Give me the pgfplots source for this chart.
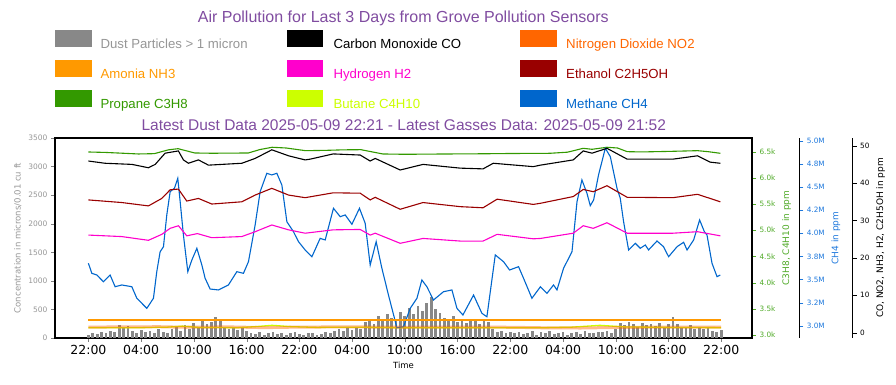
\documentclass[border=0pt]{standalone}
\usepackage{pgfplots}
\pgfplotsset{compat=1.18}
\usepackage{fontspec}
\setmainfont{DejaVu Sans}
\newfontfamily\arial{Liberation Sans}
\definecolor{ttl}{RGB}{128,76,160}
\definecolor{dust}{RGB}{136,136,136}
\definecolor{dusttxt}{RGB}{150,150,150}
\definecolor{no2}{RGB}{255,102,0}
\definecolor{nh3}{RGB}{255,153,0}
\definecolor{htwo}{RGB}{255,0,204}
\definecolor{eth}{RGB}{153,0,0}
\definecolor{prop}{RGB}{51,153,0}
\definecolor{but}{RGB}{204,255,0}
\definecolor{meth}{RGB}{0,102,204}
\definecolor{propaxis}{RGB}{80,170,40}
\definecolor{methaxis}{RGB}{30,120,220}
\pgfplotsset{
  base/.style={scale only axis, width=697pt, height=200pt, at={(55pt,47pt)}, anchor=south west,
    xmin=-3.8, xmax=75.5, tick align=outside, major tick length=4pt,
    /pgf/number format/assume math mode=true, /pgf/number format/1000 sep={}},
  side/.style={base, axis y line*=right, hide x axis,
    yticklabel style={font=\fontsize{7.3}{8}\selectfont},
    ylabel style={font=\fontsize{9}{10}\selectfont},
    y axis line style={black, line width=1pt}},
}
\begin{document}
\begin{tikzpicture}
\useasboundingbox (0,0) rectangle (896pt,385pt);
% titles
\node[anchor=base, text=ttl, font=\arial\fontsize{16}{18}\selectfont] at (403.3pt,362.7pt) {Air Pollution for Last 3 Days from Grove Pollution Sensors};
\node[anchor=base, text=ttl, font=\arial\fontsize{15.5}{18}\selectfont] at (403.8pt,254.3pt) {Latest Dust Data 2025-05-09 22:21 - Latest Gasses Data: 2025-05-09 21:52};
% legend
\begin{scope}[every node/.style={anchor=base west, font=\arial\fontsize{13.2}{15}\selectfont}]
\fill[dust] (55pt,338.3pt) rectangle (91.7pt,355pt);
\node[text=dusttxt] at (97pt,336.3pt) {Dust Particles > 1 micron};
\fill[black] (287.3pt,338.3pt) rectangle (323.3pt,355pt);
\node[text=black] at (330pt,336.3pt) {Carbon Monoxide CO};
\fill[no2] (520pt,338.3pt) rectangle (556.7pt,355pt);
\node[text=no2] at (562.7pt,336.3pt) {Nitrogen Dioxide NO2};
\fill[nh3] (55pt,308.3pt) rectangle (91.7pt,325pt);
\node[text=nh3] at (97pt,306.3pt) {Amonia NH3};
\fill[htwo] (287.3pt,308.3pt) rectangle (323.3pt,325pt);
\node[text=htwo] at (330pt,306.3pt) {Hydrogen H2};
\fill[eth] (520pt,308.3pt) rectangle (556.7pt,325pt);
\node[text=eth] at (562.7pt,306.3pt) {Ethanol C2H5OH};
\fill[prop] (55pt,278.3pt) rectangle (91.7pt,295pt);
\node[text=prop] at (97pt,276pt) {Propane C3H8};
\fill[but] (287.3pt,278.3pt) rectangle (323.3pt,295pt);
\node[text=but] at (330pt,276pt) {Butane C4H10};
\fill[meth] (520pt,278.3pt) rectangle (556.7pt,295pt);
\node[text=meth] at (562.7pt,276pt) {Methane CH4};
\end{scope}
% dust axis
\begin{axis}[base, ymin=0, ymax=3500, ytick={0,500,...,3500},
  xtick={0,6,...,72},
  xticklabels={22:00,04:00,10:00,16:00,22:00,04:00,10:00,16:00,22:00,04:00,10:00,16:00,22:00},
  xtick pos=bottom, ytick pos=left, axis line style={line width=1.2pt},
  yticklabel style={font=\fontsize{7.5}{8}\selectfont, text=dusttxt},
  xticklabel style={font=\fontsize{12.5}{13}\selectfont},
  xlabel={Time}, xlabel style={font=\fontsize{8.5}{9}\selectfont},
  ylabel={Concentration in microns/0.01 cu ft},
  ylabel style={font=\fontsize{8.5}{9}\selectfont, text=dusttxt}]
\addplot[ycomb, draw=dust, line width=2.8pt] table[x expr=\coordindex*0.5, y index=0] {
v
60
90
70
110
80
120
100
230
190
210
120
90
140
100
130
80
150
110
90
160
210
120
230
150
260
190
300
240
280
360
330
180
150
200
140
170
120
90
70
100
60
80
110
70
90
60
80
100
70
50
80
90
60
70
100
80
120
150
120
170
140
200
160
280
330
250
380
300
420
350
300
450
380
520
420
560
480
610
720
500
430
350
300
380
280
320
260
340
300
250
330
280
150
110
130
90
100
80
110
70
90
120
60
100
80
130
70
90
110
60
80
100
70
120
90
80
110
100
130
90
150
260
220
280
240
200
270
230
250
210
260
190
240
360
250
200
170
220
160
190
150
180
130
110
140
};
\end{axis}
% propane/butane axis
\begin{axis}[side, ymin=2943, ymax=6761, ytick={3000,3500,...,6500},
  yticklabels={3.0k,3.5k,4.0k,4.5k,5.0k,5.5k,6.0k,6.5k},
  ytick style={draw=propaxis}, yticklabel style={text=propaxis},
  ylabel={C3H8, C4H10 in ppm}, ylabel style={text=propaxis}]
\addplot[prop, line width=1.1pt] coordinates {(0,6494) (2,6485) (5.7,6456) (7.5,6462) (9.1,6535) (10.2,6557) (12.1,6475) (14,6470) (16,6472) (18.2,6475) (19.5,6540) (20.9,6584) (22.5,6570) (24.7,6519) (27,6525) (29,6535) (31,6538) (33.5,6456) (36,6450) (40,6455) (45,6460) (48,6465) (52.5,6469) (54.5,6490) (56.3,6564) (57.3,6545) (59,6584) (60.2,6570) (61.3,6500) (63,6495) (66,6505) (69.3,6519) (70.5,6500) (71.9,6469)};
\addplot[but, line width=1.3pt] coordinates {(0,3140) (6,3140) (9,3150) (10.7,3170) (12.5,3145) (17,3140) (19,3160) (20.9,3185) (23,3160) (26,3145) (30,3150) (35,3140) (45,3140) (52,3140) (55,3150) (58.2,3185) (61,3155) (66,3145) (72,3140)};
\end{axis}
% methane axis
\begin{axis}[side, axis y line shift=47.3pt, ymin=2.867, ymax=5.032,
  ytick={3.0,3.25,3.5,3.75,4.0,4.25,4.5,4.75,5.0},
  yticklabels={3.0M,3.2M,3.5M,3.8M,4.0M,4.2M,4.5M,4.8M,5.0M},
  ytick style={draw=methaxis}, yticklabel style={text=methaxis},
  ylabel={CH4 in ppm}, ylabel style={text=methaxis}]
\addplot[meth, line width=1.1pt] coordinates {(0,3.676) (0.39,3.567) (0.96,3.549) (1.71,3.476) (2.47,3.549) (3.04,3.422) (3.80,3.441) (4.94,3.422) (5.51,3.297) (6.65,3.188) (7.40,3.297) (7.78,3.585) (8.16,3.801) (8.54,3.855) (8.92,4.199) (9.30,4.451) (9.79,4.488) (10.17,4.596) (10.44,4.343) (10.81,3.982) (11.31,3.585) (11.77,3.711) (12.34,3.838) (12.91,3.657) (13.28,3.513) (13.85,3.397) (14.80,3.387) (15.93,3.441) (16.89,3.585) (17.64,3.567) (18.21,3.693) (18.97,4.090) (19.54,4.451) (20.30,4.650) (20.87,4.632) (21.44,4.650) (22.01,4.523) (22.58,4.126) (23.33,4.018) (23.90,3.910) (24.66,3.820) (25.43,3.747) (26.37,3.946) (26.94,3.928) (27.88,4.271) (28.65,4.180) (29.22,4.199) (29.98,4.098) (30.84,4.271) (31.49,4.109) (32.06,3.657) (32.74,3.910) (33.39,3.622) (34.14,3.332) (35.10,2.978) (35.85,2.989) (36.61,3.188) (37.38,3.297) (37.94,3.495) (38.51,3.422) (39.26,3.278) (40.40,3.368) (41.36,3.387) (41.93,3.188) (42.61,3.116) (43.82,3.332) (44.77,3.134) (45.34,3.097) (46.29,3.766) (47.23,3.693) (47.92,3.603) (48.94,3.639) (49.51,3.513) (50.46,3.297) (51.43,3.422) (52.17,3.350) (52.92,3.441) (53.31,3.387) (54.06,3.622) (55.02,3.801) (55.59,4.343) (56.15,4.578) (56.72,4.434) (57.10,4.299) (57.48,4.361) (58.04,4.632) (58.81,4.921) (59.38,4.830) (60.14,4.488) (60.51,4.380) (60.89,4.126) (61.46,3.820) (62.22,3.892) (62.79,3.838) (63.36,3.874) (63.73,3.820) (64.69,3.917) (65.44,3.855) (66.01,3.747) (66.97,3.855) (67.72,3.903) (68.11,3.820) (68.86,3.928) (69.54,4.145) (70.08,4.018) (70.38,3.982) (70.95,3.676) (71.52,3.531) (71.89,3.549)};
\end{axis}
% gases axis
\begin{axis}[side, axis y line shift=100.7pt, ymin=-1.42, ymax=52.06,
  ytick={0,10,...,50}, ytick style={draw=black},
  ylabel={CO, NO2, NH3, H2, C2H5OH in ppm}]
\addplot[no2, line width=3pt, opacity=0.45] coordinates {(0,1.5) (5,1.55) (8,1.6) (11,1.45) (16,1.55) (20,1.35) (24,1.5) (30,1.55) (36,1.45) (42,1.5) (48,1.45) (52,1.3) (56,1.25) (60,1.4) (66,1.5) (72,1.5)};
\addplot[nh3, line width=1.3pt] coordinates {(0,3.4) (72,3.4)};
\addplot[htwo, line width=1.1pt] coordinates {(0,26.1) (3.8,25.7) (6.83,24.7) (8.35,26.3) (9.3,27.9) (10.24,28.6) (11.19,25.9) (12.4,26.5) (14.04,25.4) (17.45,25.7) (18.97,27.0) (20.87,28.8) (22.77,27.5) (24.66,26.6) (27.85,27.5) (30.92,27.6) (32.06,26.1) (32.63,26.6) (35.47,23.9) (38.07,25.2) (42.3,24.5) (44.9,24.5) (46.5,26.3) (50.61,25.1) (51.43,25.2) (55.16,26.6) (56.3,28.6) (57.44,27.9) (59.0,29.4) (61.3,26.6) (66.5,26.6) (69.3,27.0) (71.9,25.9)};
\addplot[eth, line width=1.1pt] coordinates {(0,35.5) (3.8,34.8) (6.83,33.9) (8.35,35.9) (9.3,38.2) (10.24,38.4) (11.19,35.2) (12.52,35.9) (14.04,34.4) (17.45,35.0) (18.97,36.8) (20.87,38.6) (22.77,36.8) (24.66,36.1) (27.85,37.4) (30.92,37.3) (32.06,35.5) (32.63,36.2) (35.47,33.0) (38.07,34.8) (42.3,33.7) (44.9,33.4) (46.5,35.7) (50.61,34.3) (51.43,34.6) (55.16,36.4) (56.3,38.3) (57.44,37.7) (59.0,39.3) (61.3,36.2) (66.5,36.1) (69.3,37.0) (71.9,35.0)};
\addplot[black, line width=1.1pt] coordinates {(0,45.9) (1.9,45.3) (4.96,45.0) (6.83,44.1) (7.6,45.0) (8.73,48.0) (10.24,48.6) (10.81,46.2) (11.38,45.3) (12.52,46.2) (13.66,44.8) (17.45,45.3) (18.97,46.6) (20.87,48.9) (22.77,47.3) (24.66,46.2) (25.23,46.4) (27.85,47.8) (30.92,47.5) (32.06,45.9) (32.63,46.6) (35.47,43.5) (38.07,45.0) (42.3,44.0) (44.9,43.8) (46.06,45.3) (50.61,44.4) (51.43,44.8) (55.16,46.2) (56.3,48.6) (57.3,48.0) (59.0,49.3) (61.3,46.4) (66.5,46.4) (69.3,47.3) (70.75,45.6) (71.9,45.3)};
\end{axis}
\end{tikzpicture}
\end{document}
